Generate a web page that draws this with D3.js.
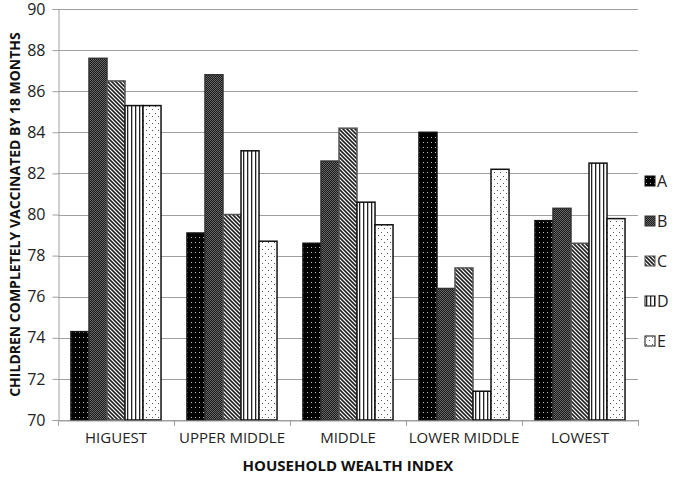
<!DOCTYPE html>
<html>
<head>
<meta charset="utf-8">
<script src="https://cdn.jsdelivr.net/npm/d3@7"></script>
<style>
  body { margin: 0; background: #fff; }
  text { font-family: "Open Sans", "Noto Sans", sans-serif; }
</style>
</head>
<body>
<svg width="683" height="479"></svg>
<script>
// data
var categories = ["HIGUEST", "UPPER MIDDLE", "MIDDLE", "LOWER MIDDLE", "LOWEST"];
var seriesNames = ["A", "B", "C", "D", "E"];
var A = [74.3, 79.1, 78.6, 84.0, 79.7];
var B = [87.6, 86.8, 82.6, 76.4, 80.3];
var C = [86.5, 80.0, 84.2, 77.4, 78.6];
var D = [85.3, 83.1, 80.6, 71.4, 82.5];
var E = [85.3, 78.7, 79.5, 82.2, 79.8];
var yTicks = [70, 72, 74, 76, 78, 80, 82, 84, 86, 88, 90];
var series = [A, B, C, D, E];

var svg = d3.select("svg");
var margin = {left: 58, right: 45, top: 9, bottom: 59};
var W = 683, H = 479;

var x0 = d3.scaleBand().domain(categories).range([margin.left, W - margin.right]).paddingInner(0).paddingOuter(0);
var x1 = d3.scaleBand().domain(seriesNames).range([0, x0.bandwidth()]).paddingOuter(0.72).paddingInner(0);
var y = d3.scaleLinear().domain([70, 90]).range([H - margin.bottom, margin.top]);

// patterns
var defs = svg.append("defs");
var pA = defs.append("pattern").attr("id", "pA").attr("patternUnits", "userSpaceOnUse").attr("width", 4).attr("height", 5);
pA.append("rect").attr("width", 4).attr("height", 5).attr("fill", "#000");
pA.append("rect").attr("x", 1).attr("y", 2).attr("width", 1).attr("height", 1).attr("fill", "#bbb");

var pB = defs.append("pattern").attr("id", "pB").attr("patternUnits", "userSpaceOnUse").attr("width", 2).attr("height", 2);
pB.append("rect").attr("width", 2).attr("height", 2).attr("fill", "#1a1a1a");
pB.append("rect").attr("width", 1).attr("height", 1).attr("fill", "#666");
pB.append("rect").attr("x", 1).attr("y", 1).attr("width", 1).attr("height", 1).attr("fill", "#666");

var pC = defs.append("pattern").attr("id", "pC").attr("patternUnits", "userSpaceOnUse").attr("width", 4).attr("height", 4);
pC.append("rect").attr("width", 4).attr("height", 4).attr("fill", "#fff");
pC.append("path").attr("d", "M-1,-1 L5,5 M-1,3 L1,5 M3,-1 L5,1").attr("stroke", "#222").attr("stroke-width", 1.6);

var pD = defs.append("pattern").attr("id", "pD").attr("patternUnits", "userSpaceOnUse").attr("width", 4).attr("height", 4);
pD.append("rect").attr("width", 4).attr("height", 4).attr("fill", "#fff");
pD.append("rect").attr("x", 1).attr("width", 1.3).attr("height", 4).attr("fill", "#222");

var pE = defs.append("pattern").attr("id", "pE").attr("patternUnits", "userSpaceOnUse").attr("width", 6).attr("height", 7);
pE.append("rect").attr("width", 6).attr("height", 7).attr("fill", "#fff");
pE.append("rect").attr("x", 1).attr("y", 1).attr("width", 1).attr("height", 1).attr("fill", "#555");
pE.append("rect").attr("x", 4).attr("y", 4).attr("width", 1).attr("height", 1).attr("fill", "#555");

var fills = {A: "url(#pA)", B: "url(#pB)", C: "url(#pC)", D: "url(#pD)", E: "url(#pE)"};
var strokes = {A: "#111", B: "#333", C: "#555", D: "#111", E: "#111"};

// gridlines
svg.append("g").selectAll("line").data(yTicks).enter().append("line")
  .attr("x1", margin.left).attr("x2", W - margin.right)
  .attr("y1", function(d) { return Math.round(y(d)) + 0.5; })
  .attr("y2", function(d) { return Math.round(y(d)) + 0.5; })
  .attr("stroke", "#a0a0a0").attr("stroke-width", 1.2);

// y axis
var yAxis = svg.append("g").attr("transform", "translate(" + (margin.left + 0.5) + ",0)")
  .call(d3.axisLeft(y).tickValues(yTicks).tickSize(6).tickPadding(7));
yAxis.select(".domain").attr("stroke", "#a0a0a0");
yAxis.selectAll(".tick line").attr("stroke", "#a0a0a0");
yAxis.selectAll("text").attr("font-size", 16).attr("fill", "#222").attr("font-family", "Open Sans");

// bars
var groups = svg.append("g").selectAll("g").data(categories).enter().append("g")
  .attr("transform", function(d) { return "translate(" + x0(d) + ",0)"; });
groups.selectAll("rect")
  .data(function(d, i) { return seriesNames.map(function(s, j) { return {key: s, value: series[j][i]}; }); })
  .enter().append("rect")
  .attr("x", function(d) { return x1(d.key); })
  .attr("y", function(d) { return y(d.value); })
  .attr("width", x1.bandwidth())
  .attr("height", function(d) { return y(70) - y(d.value); })
  .attr("fill", function(d) { return fills[d.key]; })
  .attr("stroke", function(d) { return strokes[d.key]; })
  .attr("stroke-width", 1.5);

// x axis
var xAxis = svg.append("g").attr("transform", "translate(0," + (y(70) + 0.5) + ")")
  .call(d3.axisBottom(x0).tickSize(0).tickPadding(12));
xAxis.select(".domain").attr("stroke", "#a0a0a0");
xAxis.selectAll("text").attr("font-size", 15).attr("fill", "#222").attr("font-family", "Open Sans");
svg.append("g").selectAll("line").data(categories).enter().append("line")
  .attr("x1", function(d) { return Math.round(x0(d)) + 0.5; })
  .attr("x2", function(d) { return Math.round(x0(d)) + 0.5; })
  .attr("y1", y(70)).attr("y2", y(70) + 6)
  .attr("stroke", "#a0a0a0");
svg.append("line")
  .attr("x1", W - margin.right + 0.5).attr("x2", W - margin.right + 0.5)
  .attr("y1", y(70)).attr("y2", y(70) + 6).attr("stroke", "#a0a0a0");

// axis titles
svg.append("text")
  .attr("x", (margin.left + W - margin.right) / 2).attr("y", 471)
  .attr("text-anchor", "middle").attr("font-weight", "bold").attr("font-size", 15).attr("fill", "#111")
  .text("HOUSEHOLD WEALTH INDEX");
svg.append("text")
  .attr("transform", "translate(20," + ((y(70) + y(90)) / 2) + ") rotate(-90)")
  .attr("text-anchor", "middle").attr("font-weight", "bold").attr("font-size", 14).attr("fill", "#111")
  .text("CHILDREN COMPLETELY VACCINATED BY 18 MONTHS");

// legend
var legend = svg.append("g").selectAll("g").data(seriesNames).enter().append("g")
  .attr("transform", function(d, i) { return "translate(645," + (176 + i * 40) + ")"; });
legend.append("rect").attr("width", 10).attr("height", 10)
  .attr("fill", function(d) { return fills[d]; })
  .attr("stroke", function(d) { return strokes[d]; });
legend.append("text").attr("x", 12).attr("y", 11).attr("font-size", 16).attr("fill", "#222").text(function(d) { return d; });
</script>
</body>
</html>
